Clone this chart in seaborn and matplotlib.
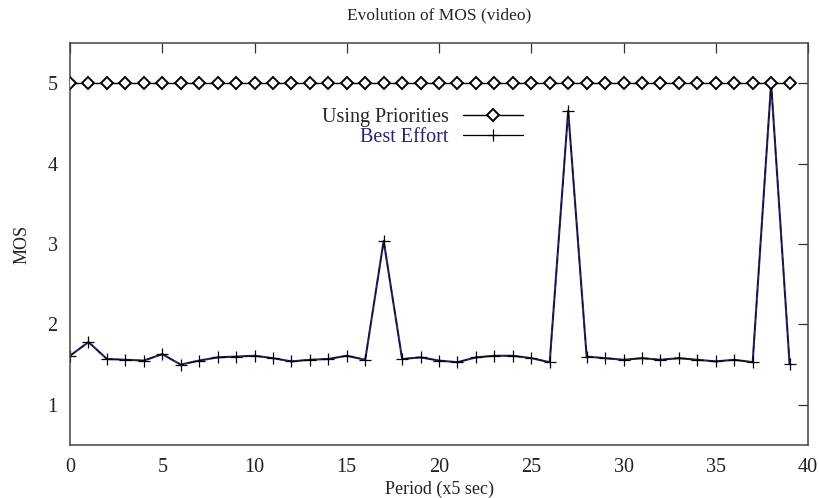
import matplotlib
matplotlib.use("Agg")
import matplotlib.pyplot as plt
import seaborn as sns
import numpy as np
import pandas as pd
from matplotlib.lines import Line2D

period = list(range(40))
priorities = [5.0] * 40
best_effort = [1.61, 1.78, 1.57, 1.56, 1.55, 1.63, 1.50, 1.55, 1.59, 1.60,
               1.61, 1.58, 1.54, 1.56, 1.57, 1.61, 1.56, 3.04, 1.57, 1.59,
               1.55, 1.53, 1.59, 1.61, 1.61, 1.58, 1.53, 4.66, 1.60, 1.58,
               1.56, 1.58, 1.56, 1.58, 1.56, 1.54, 1.56, 1.53, 5.00, 1.51]
x_ticks = [0, 5, 10, 15, 20, 25, 30, 35, 40]
y_ticks = [1, 2, 3, 4, 5]

sns.set_style("white")
plt.rcParams['font.family'] = ['Liberation Serif', 'DejaVu Serif']

df = pd.DataFrame({"period": period, "priorities": priorities, "best": best_effort})

fig = plt.figure(figsize=(8.2, 4.98), dpi=100)
ax = fig.add_axes([0.0854, 0.1064, 0.9, 0.8073])

navy = "#2a2170"
sns.lineplot(data=df, x="period", y="priorities", ax=ax, color="black", lw=1.0,
             marker="D", markersize=6.5, markerfacecolor="white",
             markeredgecolor="black", markeredgewidth=1.4, zorder=3)
sns.lineplot(data=df, x="period", y="best", ax=ax, color=navy, lw=1.5, zorder=2)
sns.lineplot(data=df, x="period", y="best", ax=ax, color="#111111", lw=0.8,
             linestyle=(0, (6, 4)), marker="+", markersize=8,
             markeredgecolor="black", markeredgewidth=0.9, zorder=2.5)

ax.set_xlim(0, 40)
ax.set_ylim(0.5, 5.5)
ax.set_xticks(x_ticks)
ax.set_yticks(y_ticks)
ax.tick_params(direction="in", length=7.5, width=0.9, top=True, right=True,
               labeltop=False, labelright=False, labelsize=14.5, pad=9,
               colors="#333333", labelcolor="#222222")
for s in ax.spines.values():
    s.set_visible(True)
    s.set_linewidth(1.1)
    s.set_color("#444444")

ax.set_xlabel("Period (x5 sec)", fontsize=13, labelpad=3, color="#222222")
ax.set_ylabel("MOS", fontsize=13, labelpad=12, color="#222222")
ax.set_title("Evolution of MOS (video)", fontsize=12.5, pad=17, color="#222222")

h1 = Line2D([], [], color="black", lw=1.0, marker="D", markersize=6.5,
            markerfacecolor="white", markeredgecolor="black", markeredgewidth=1.4)
h2 = Line2D([], [], color="black", lw=0.9, marker="+", markersize=8,
            markeredgecolor="black", markeredgewidth=0.9)
leg = ax.legend([h1, h2], ["Using Priorities", "Best Effort"], loc="upper right",
                bbox_to_anchor=(533 / 820, 1 - 98 / 498), bbox_transform=fig.transFigure,
                frameon=False, markerfirst=False, fontsize=14.5, handlelength=3.0,
                labelspacing=0.02, handletextpad=0.7, borderpad=0)
for t in leg.get_texts():
    t.set_ha("right")
leg.get_texts()[1].set_color(navy)
leg._legend_box.align = "right"

fig.savefig("out.png", dpi=100)
